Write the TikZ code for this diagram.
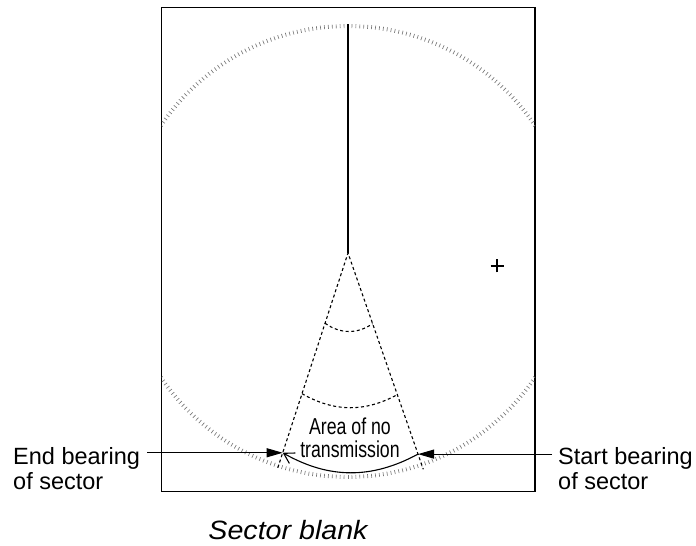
\documentclass[tikz,border=0pt]{standalone}
\usepackage{fontspec}
\setmainfont{Liberation Sans}
\newfontfamily\condfont[FakeStretch=0.77]{Liberation Sans}
\newfontfamily\capfont[FakeStretch=1.08]{Liberation Sans}
\usepackage{tikz}
\usetikzlibrary{arrows.meta, calc}
\usepackage{xcolor}
\definecolor{Ring}{HTML}{777777}

\begin{document}
\begin{tikzpicture}[x=1pt, y=1pt, >=Stealth,
    frame/.style={line width=1.1pt},
    ringtick/.style={Ring, line width=0.65pt},
    sectoredge/.style={line width=1.1pt, dash pattern=on 3pt off 2.6pt},
    ptr/.style={-{Triangle[length=16pt, width=9pt]}, line width=1pt},
    lbl/.style={font=\fontsize{23.5}{25}\selectfont, align=left, inner sep=0pt, anchor=north west}]
  \useasboundingbox (0,0) rectangle (696,546);
  \coordinate (ax) at (348,293);
  \coordinate (rc) at (348,294.5);
  % display frame and bearing ring
  \draw[frame] (161.5,54.3) rectangle (535,538.7);
  \begin{scope}
    \clip (161.5,54.3) rectangle (535,538.7);
    \foreach \a in {0,...,359}
      \draw[ringtick] (rc) ++(\a:223.5) -- ++(\a:4);
  \end{scope}
  \coordinate (top) at ($(ax)+(0,229)$);
  \draw[line width=1.2pt] (ax) -- (top);
  % blanked sector
  \coordinate (le) at ($(ax)+(251.9:226)$);
  \coordinate (re) at ($(ax)+(289.2:229)$);
  \draw[sectoredge] (le) -- (ax) -- (re);
  \draw[sectoredge] ($(ax)!0.327!(le)$) to[bend right=35] ($(ax)!0.327!(re)$);
  \draw[sectoredge] ($(ax)!0.655!(le)$) to[bend right=29] ($(ax)!0.655!(re)$);
  \coordinate (sl) at ($(ax)!0.93!(le)$);
  \coordinate (sr) at ($(ax)!0.93!(re)$);
  \draw[line width=1.1pt, -{Straight Barb[length=10pt, width=12pt]}] (sr) to[bend left=29] (sl);
  \node[font=\condfont\fontsize{23}{23}\selectfont, align=center, inner sep=0pt, anchor=north] (area) at (350,128) {Area of no\\transmission};
  % bearing labels
  \node[lbl] (endlbl) at (13,99) {End bearing\\of sector};
  \node[lbl] (startlbl) at (558,99) {Start bearing\\of sector};
  \coordinate (endtail) at (147,0);
  \coordinate (starttail) at (552,0);
  \draw[ptr] (endtail |- sl) -- (sl);
  \draw[ptr] (starttail |- sr) -- (sr);
  % cursor mark
  \coordinate (cursor) at (497,280);
  \draw[line width=1.6pt] ($(cursor)+(-6.5,0)$) -- ($(cursor)+(6.5,0)$)
    ($(cursor)+(0,-6.5)$) -- ($(cursor)+(0,6.5)$);
  \node[font=\capfont\fontsize{26.5}{28}\selectfont\itshape, anchor=base, inner sep=0pt] (caption) at (288,6) {Sector blank};
\end{tikzpicture}
\end{document}
